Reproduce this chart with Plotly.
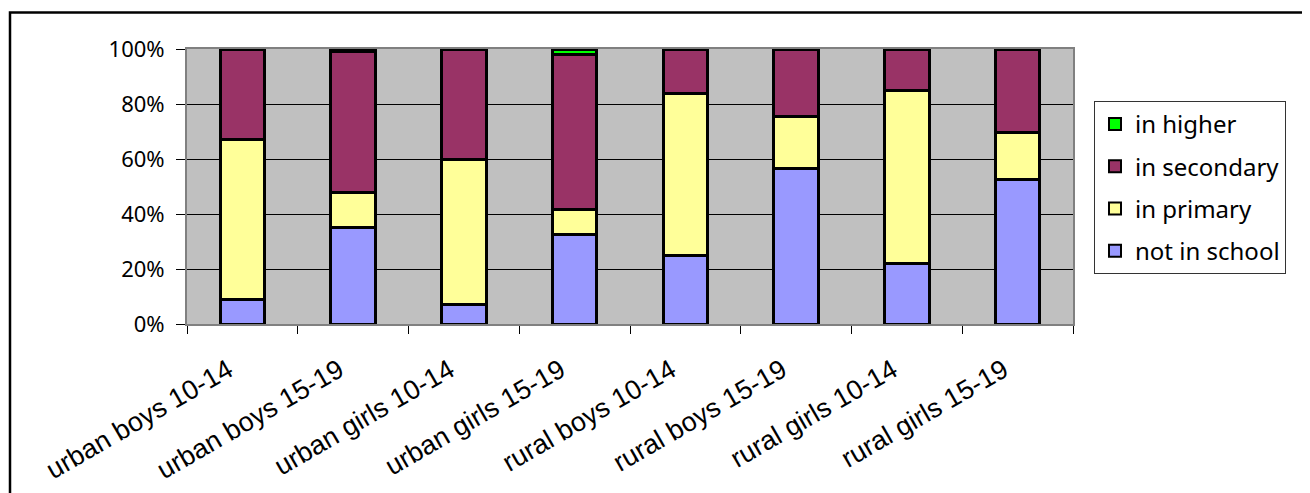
import plotly.graph_objects as go

categories = ["urban boys 10-14", "urban boys 15-19", "urban girls 10-14", "urban girls 15-19",
              "rural boys 10-14", "rural boys 15-19", "rural girls 10-14", "rural girls 15-19"]
not_in_school = [9, 35, 7, 32.5, 25, 56.5, 22, 52.5]
in_primary = [58, 13, 53, 9, 59, 19, 63, 17]
in_secondary = [33, 51, 40, 56.5, 16, 24.5, 15, 30.5]
in_higher = [0, 1, 0, 2, 0, 0, 0, 0]
y_ticks = [0, 20, 40, 60, 80, 100]
y_tick_labels = ["0%", "20%", "40%", "60%", "80%", "100%"]

series = [
    ("not in school", not_in_school, "#9999FF", 4),
    ("in primary", in_primary, "#FFFF99", 3),
    ("in secondary", in_secondary, "#993366", 2),
    ("in higher", in_higher, "#00FF00", 1),
]

fig = go.Figure()
for name, vals, col, rank in series:
    fig.add_trace(go.Bar(
        x=categories, y=vals, name=name, legendgroup=name, legendrank=rank,
        marker=dict(color=col, line=dict(color="black", width=3)),
    ))

OFF = 8  # page body margin
W, H = 1310 - OFF, 493 - OFF
L, R, T, B = 187 - OFF, 1073 - OFF, 49 - OFF, 324 - OFF
fig.update_layout(
    width=W, height=H,
    margin=dict(l=L, r=W - R, t=T, b=H - B, pad=0, autoexpand=False),
    barmode="stack", bargap=0.6,
    plot_bgcolor="#C0C0C0", paper_bgcolor="white",
    showlegend=True,
    legend=dict(
        x=(1094 - OFF - L) / (R - L), y=(B - (101 - OFF)) / (B - T), xanchor="left", yanchor="top",
        traceorder="grouped", bordercolor="#333333", borderwidth=1, bgcolor="white",
        font=dict(family="Noto Sans", size=24, color="black"),
        tracegroupgap=8, itemsizing="constant",
    ),
    font=dict(family="Noto Sans", color="black"),
)
fig.update_yaxes(
    range=[0, 100], tickvals=y_ticks, ticktext=y_tick_labels, automargin=False,
    showgrid=True, gridcolor="black", gridwidth=1,
    ticks="outside", ticklen=9, tickcolor="black", tickwidth=1,
    ticklabelstandoff=7,
    showline=True, linecolor="#808080", linewidth=2, mirror=True,
    tickfont=dict(family="Noto Sans", size=22, color="black"),
    zeroline=False,
)
fig.update_xaxes(
    tickson="boundaries", ticks="outside", ticklen=8, tickcolor="black", tickwidth=1,
    tickangle=-30, showgrid=False, ticklabelshift=-14, ticklabelstandoff=18, automargin=False,
    showline=True, linecolor="#808080", linewidth=2, mirror=True,
    tickfont=dict(family="Liberation Sans", size=27, color="black"),
)

# outer chart frame
fx0 = (10 - OFF - L) / (R - L)
fx1 = (1330 - OFF - L) / (R - L)
fy1 = (B - (12.5 - OFF)) / (B - T)
fy0 = (B - 520) / (B - T)
fig.add_shape(type="rect", xref="paper", yref="paper", x0=fx0, x1=fx1, y0=fy0, y1=fy1,
              line=dict(color="black", width=2.5), fillcolor="rgba(0,0,0,0)", layer="below")

fig.write_html("out.html")
